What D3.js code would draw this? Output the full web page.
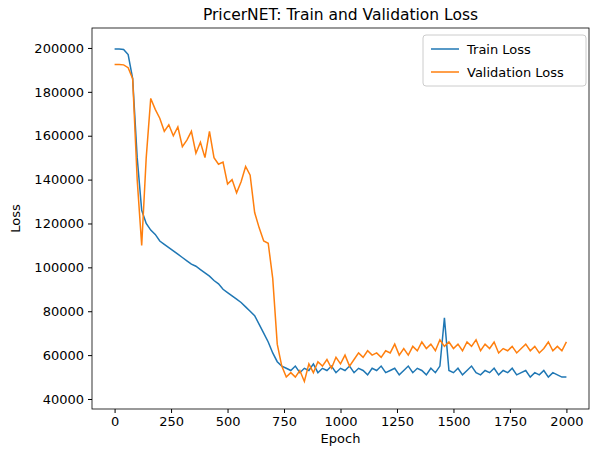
<!DOCTYPE html>
<html>
<head>
<meta charset="utf-8">
<title>PricerNET Loss</title>
<script src="https://d3js.org/d3.v7.min.js"></script>
<style>
  body { margin: 0; background: #fff; }
  text { font-family: "DejaVu Sans", sans-serif; }
</style>
</head>
<body>
<div id="chart"></div>
<script>
var epochs = d3.range(0, 2001, 20);
var trainLoss = [199500,199500,199300,197000,186000,150000,126000,120000,117000,115000,
  112000,110500,109000,107500,106000,104500,103000,101500,100500,99000,
  97500,96000,94000,92500,90000,88500,87000,85500,84000,82000,
  80000,78000,74000,70000,66000,61000,57000,55000,54000,53000,
  55000,52000,54000,53000,56000,52000,54000,53000,55000,52000,
  54000,53000,55000,52000,54000,53000,51000,54000,53000,55000,
  52000,53000,54000,51000,53000,55000,52000,54000,53000,51000,
  54000,52000,55000,77000,53000,52000,54000,51000,53000,55000,
  52000,51000,53000,52000,54000,51000,53000,52000,54000,51000,
  52000,53000,50000,52000,51000,53000,50000,52000,51000,50000,50000];
var valLoss = [192500,192500,192300,191000,186000,140000,110000,150000,177000,172000,
  168000,162000,165000,160000,164000,155000,158000,162000,152000,157000,
  150000,162000,150000,147000,148000,138000,140000,134000,139000,146000,
  142000,125000,118000,112000,111000,95000,65000,55000,50000,52000,
  50000,53000,48000,56000,52000,57000,55000,58000,54000,59000,
  56000,60000,55000,58000,61000,59000,62000,60000,61000,59000,
  62000,61000,65000,60000,63000,60000,64000,62000,66000,63000,
  65000,62000,67000,64000,66000,63000,65000,62000,66000,64000,
  67000,62000,65000,63000,66000,61000,63000,62000,64000,61000,
  63000,65000,62000,64000,61000,63000,66000,62000,64000,62000,66000];
var xTicks = [0, 250, 500, 750, 1000, 1250, 1500, 1750, 2000];
var yTicks = [40000, 60000, 80000, 100000, 120000, 140000, 160000, 180000, 200000];
var seriesNames = ["Train Loss", "Validation Loss"];
var colors = ["#1f77b4", "#ff7f0e"];

var W = 598, H = 455, L = 92, R = 589, T = 28, B = 409;
var svg = d3.select("#chart").append("svg").attr("width", W).attr("height", H);
var x = d3.scaleLinear().domain([-100, 2100]).range([L, R]);
var y = d3.scaleLinear().domain([35440, 209100]).range([B, T]);

svg.append("g").attr("transform", "translate(0," + B + ")")
  .call(d3.axisBottom(x).tickValues(xTicks).tickSize(4).tickPadding(4).tickFormat(d3.format("d")))
  .call(function(g){ g.select(".domain").remove(); g.selectAll("text").attr("font-size", 13).attr("fill", "#000"); });
svg.append("g").attr("transform", "translate(" + L + ",0)")
  .call(d3.axisLeft(y).tickValues(yTicks).tickSize(4).tickPadding(4).tickFormat(d3.format("d")))
  .call(function(g){ g.select(".domain").remove(); g.selectAll("text").attr("font-size", 13).attr("fill", "#000"); });

var line = d3.line().x(function(d){ return x(d[0]); }).y(function(d){ return y(d[1]); });
[trainLoss, valLoss].forEach(function(vals, i){
  svg.append("path").datum(epochs.map(function(e, j){ return [e, vals[j]]; }))
    .attr("d", line).attr("fill", "none").attr("stroke", colors[i]).attr("stroke-width", 1.5);
});

svg.append("rect").attr("x", L).attr("y", T).attr("width", R - L).attr("height", B - T)
  .attr("fill", "none").attr("stroke", "#000").attr("stroke-width", 0.8);

svg.append("text").attr("x", (L + R) / 2).attr("y", T - 8).attr("text-anchor", "middle")
  .attr("font-size", 15.5).text("PricerNET: Train and Validation Loss");
svg.append("text").attr("x", (L + R) / 2).attr("y", 443).attr("text-anchor", "middle")
  .attr("font-size", 13).text("Epoch");
svg.append("text").attr("transform", "translate(20," + (T + B) / 2 + ") rotate(-90)")
  .attr("text-anchor", "middle").attr("font-size", 13).text("Loss");

var lg = svg.append("g").attr("transform", "translate(423,35)");
lg.append("rect").attr("width", 163).attr("height", 51).attr("rx", 3)
  .attr("fill", "#fff").attr("stroke", "#ccc");
seriesNames.forEach(function(n, i){
  var yy = 14 + i * 23;
  lg.append("line").attr("x1", 8).attr("x2", 36).attr("y1", yy).attr("y2", yy)
    .attr("stroke", colors[i]).attr("stroke-width", 1.5);
  lg.append("text").attr("x", 44).attr("y", yy + 4.5).attr("font-size", 13).text(n);
});
</script>
</body>
</html>
